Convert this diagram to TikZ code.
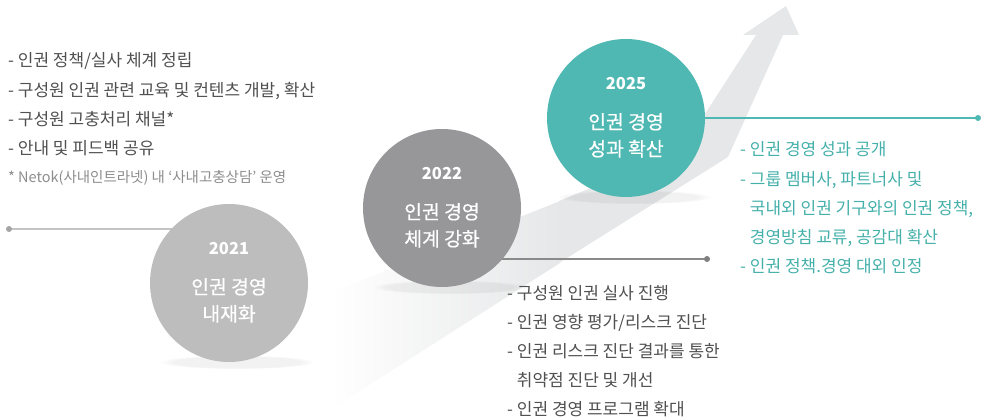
\documentclass[tikz,border=0pt]{standalone}
\usepackage{fontspec}
\setmainfont{Noto Sans CJK KR}
\newfontfamily\krmed[FakeBold=0.6]{Noto Sans CJK KR}
\usetikzlibrary{positioning,backgrounds,fadings}

\definecolor{arrowgray}{HTML}{E6E7E8}
\definecolor{gray21}{HTML}{BDBDBE}
\definecolor{gray22}{HTML}{97979A}
\definecolor{teal25}{HTML}{4FB8B3}
\definecolor{tealtext}{HTML}{45B0AA}
\definecolor{textdark}{HTML}{505050}
\definecolor{notegray}{HTML}{8C8C8C}
\definecolor{line21}{HTML}{C4C4C4}
\definecolor{dot21}{HTML}{A5A5A5}
\definecolor{line22}{HTML}{8A8A8A}
\definecolor{dot22}{HTML}{7F7F7F}

\tikzset{
  stage/.style={circle, minimum size=158pt, inner sep=0pt},
  yeartext/.style={anchor=base, inner sep=0pt, text=white, font=\fontsize{16.5}{18}\selectfont\bfseries},
  nametext/.style={anchor=base, inner sep=0pt, text=white, font=\fontsize{19.3}{21}\krmed},
  dot/.style={circle, inner sep=0pt, minimum size=6pt},
  % base anchor of a multi-line node sits on its last line
  listtext/.style={anchor=base west, align=left, inner sep=0pt, font=\fontsize{17}{29.2}\selectfont},
  notetext/.style={anchor=base west, inner sep=0pt, text=notegray, font=\fontsize{14.5}{16}\selectfont},
  shadow/.style={black, opacity=0.05, path fading=circle with fuzzy edge 20 percent},
}

\begin{document}
\begin{tikzpicture}[x=1pt, y=-1pt]
  \useasboundingbox (0,0) rectangle (981,419);

  % stages
  \node[stage, fill=gray21] (c2021) at (229,283) {};
  \node[stage, fill=gray22] (c2022) at (442,208) {};
  \node[stage, fill=teal25] (c2025) at (626,118) {};

  \node[yeartext] (y2021) at ([yshift=28pt]c2021.center) {2021};
  \node[nametext] (a2021) at ([yshift=-11pt]c2021.center) {인권 경영};
  \node[nametext] (b2021) at ([yshift=-38pt]c2021.center) {내재화};

  \node[yeartext] (y2022) at ([yshift=28pt]c2022.center) {2022};
  \node[nametext] (a2022) at ([yshift=-11pt]c2022.center) {인권 경영};
  \node[nametext] (b2022) at ([yshift=-38pt]c2022.center) {체계 강화};

  \node[yeartext] (y2025) at ([yshift=28pt]c2025.center) {2025};
  \node[nametext] (a2025) at ([yshift=-11pt]c2025.center) {인권 경영};
  \node[nametext] (b2025) at ([yshift=-38pt]c2025.center) {성과 확산};

  % end dots
  \node[dot, fill=dot21] (d2021) at (9,229) {};
  \node[dot, fill=dot22] (d2022) at (707,259) {};
  \node[dot, fill=teal25] (d2025) at (978,118) {};

  % lists
  \node[listtext, text=textdark] (l2021) at (8,154.6)
    {- 인권 정책/실사 체계 정립\\
     - 구성원 인권 관련 교육 및 컨텐츠 개발, 확산\\
     - 구성원 고충처리 채널*\\
     - 안내 및 피드백 공유};
  \node[notetext] (n2021) at (8,183) {* Netok(사내인트라넷) 내 ‘사내고충상담’ 운영};

  \node[listtext, text=textdark] (l2022) at (507,415.8)
    {- 구성원 인권 실사 진행\\
     - 인권 영향 평가/리스크 진단\\
     - 인권 리스크 진단 결과를 통한\\
     \phantom{- }취약점 진단 및 개선\\
     - 인권 경영 프로그램 확대};

  \node[listtext, text=tealtext] (l2025) at (740,272.8)
    {- 인권 경영 성과 공개\\
     - 그룹 멤버사, 파트너사 및\\
     \phantom{- }국내외 인권 기구와의 인권 정책,\\
     \phantom{- }경영방침 교류, 공감대 확산\\
     - 인권 정책.경영 대외 인정};

  \begin{scope}[on background layer]
    % rising arrow
    \shade[left color=white, right color=arrowgray]
      (330,293) -- (560,201) -- (560,263) -- (330,410) -- cycle;
    \fill[arrowgray] (559,201) -- (681,151) -- (756,35) -- (743,35) -- (786,6)
      -- (799,35) -- (783,35) -- (728,157) -- (559,263) -- cycle;
    % shadows
    \fill[shadow] (237,362) ellipse (78 and 7);
    \fill[shadow] (450,287) ellipse (78 and 7);
    \fill[shadow] (634,197) ellipse (78 and 7);
    % leader lines
    \draw[line21, line width=1.2pt] (d2021.center) -- (d2021 -| c2021.center);
    \draw[line22, line width=1.2pt] (d2022.center) -- (d2022 -| c2022.center);
    \draw[teal25, line width=1.2pt] (d2025.center) -- (d2025 -| c2025.center);
  \end{scope}
\end{tikzpicture}
\end{document}
